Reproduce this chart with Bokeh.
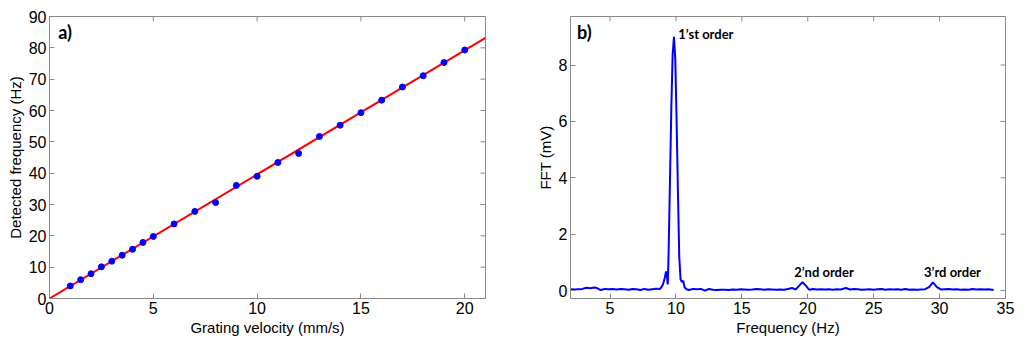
import math
from bokeh.plotting import figure
from bokeh.layouts import row
from bokeh.models import FixedTicker, Label, Range1d
from bokeh.embed import file_html
from bokeh.resources import INLINE

# ---- panel a) data ----
velocity = [1, 1.5, 2, 2.5, 3, 3.5, 4, 4.5, 5, 6, 7, 8, 9, 10, 11, 12, 13, 14, 15, 16, 17, 18, 19, 20]
detected = [4.0, 6.0, 7.9, 10.1, 11.9, 13.8, 15.7, 17.9, 19.8, 23.8, 27.8, 30.6, 36.1, 39.0,
            43.4, 46.3, 51.7, 55.3, 59.3, 63.3, 67.5, 71.1, 75.3, 79.3]
fit_slope = 3.96
fit_x = [0, 21]

# ---- panel b) data ----
freq = [2.0, 2.3, 2.6, 2.9, 3.2, 3.5, 3.8, 4.0, 4.3, 4.6, 4.9, 5.2, 5.5, 5.8, 6.1, 6.4, 6.7, 7.0,
        7.3, 7.6, 7.9, 8.2, 8.5, 8.8, 9.0, 9.15, 9.25, 9.32, 9.38, 9.45, 9.55, 9.65, 9.75, 9.85,
        9.95, 10.05, 10.15, 10.25, 10.35, 10.45, 10.55, 10.65, 10.8, 11.0, 11.3, 11.6, 11.9, 12.2,
        12.5, 12.8, 13.1, 13.4, 13.7, 14.0, 14.3, 14.6, 14.9, 15.2, 15.5, 15.8, 16.1, 16.4, 16.7,
        17.0, 17.3, 17.6, 17.9, 18.2, 18.5, 18.8, 19.1, 19.3, 19.6, 19.9, 20.1, 20.4, 20.7, 21.0,
        21.3, 21.6, 21.9, 22.2, 22.5, 22.9, 23.2, 23.5, 23.8, 24.1, 24.4, 24.7, 25.0, 25.3, 25.6,
        25.9, 26.2, 26.5, 26.8, 27.1, 27.4, 27.7, 28.0, 28.3, 28.6, 28.9, 29.2, 29.5, 29.8, 30.1,
        30.4, 30.7, 31.0, 31.3, 31.6, 31.9, 32.2, 32.5, 32.8, 33.1, 33.4, 33.7, 34.1]
fft = [0.05, 0.04, 0.05, 0.06, 0.10, 0.08, 0.11, 0.09, 0.02, 0.06, 0.05, 0.06, 0.04, 0.06, 0.05,
       0.03, 0.06, 0.05, 0.02, 0.06, 0.03, 0.05, 0.07, 0.06, 0.20, 0.45, 0.68, 0.50, 0.22, 1.5,
       4.0, 6.5, 8.4, 9.0, 8.2, 6.0, 3.5, 1.2, 0.40, 0.30, 0.35, 0.12, 0.05, 0.02, 0.06, 0.05,
       0.06, 0.00, 0.06, 0.03, 0.02, 0.03, 0.03, 0.02, 0.04, 0.03, 0.05, 0.04, 0.03, 0.04, 0.06,
       0.05, 0.03, 0.05, 0.04, 0.03, 0.04, 0.03, 0.06, 0.09, 0.04, 0.15, 0.30, 0.15, 0.03, 0.06,
       0.04, 0.05, 0.04, 0.05, 0.03, 0.05, 0.04, 0.09, 0.04, 0.06, 0.05, 0.03, 0.04, 0.05, 0.03,
       0.05, 0.06, 0.03, 0.05, 0.04, 0.05, 0.03, 0.06, 0.03, 0.04, 0.03, 0.04, 0.05, 0.12, 0.29,
       0.12, 0.04, 0.05, 0.06, 0.04, 0.05, 0.03, 0.04, 0.03, 0.06, 0.04, 0.05, 0.04, 0.05, 0.02]

a_xticks = [0, 5, 10, 15, 20]
a_yticks = [0, 10, 20, 30, 40, 50, 60, 70, 80, 90]
b_xticks = [5, 10, 15, 20, 25, 30, 35]
b_yticks = [0, 2, 4, 6, 8]

AX = "#8a8a8a"
TICK_FONT = "Liberation Sans"


def style_axis(ax):
    ax.axis_line_color = AX
    ax.major_tick_line_color = AX
    ax.major_tick_in = 5
    ax.major_tick_out = 0
    ax.minor_tick_line_color = None
    ax.major_label_text_font = TICK_FONT
    ax.major_label_text_color = "black"
    ax.major_label_text_font_size = "16px"
    ax.major_label_standoff = 3
    ax.axis_label_text_font = TICK_FONT
    ax.axis_label_text_font_style = "normal"
    ax.axis_label_text_font_size = "15px"
    ax.axis_label_text_color = "black"
    ax.axis_label_standoff = 2


def make_fig(xr, yr, xt, yt, fw, fh, bl, br, xlabel, ylabel):
    p = figure(frame_width=fw, frame_height=fh, x_range=Range1d(*xr), y_range=Range1d(*yr),
               output_backend="svg", toolbar_location=None,
               min_border_left=bl, min_border_right=br, min_border_top=16, min_border_bottom=38)
    p.grid.visible = False
    p.outline_line_color = AX
    p.xaxis.ticker = FixedTicker(ticks=xt)
    p.yaxis.ticker = FixedTicker(ticks=yt)
    p.xaxis.axis_label = xlabel
    p.yaxis.axis_label = ylabel
    style_axis(p.xaxis[0])
    style_axis(p.yaxis[0])
    # inward ticks on the top and right frame edges (box style); half of each dash is clipped
    top_t = [t for t in xt if xr[0] < t < xr[1]]
    p.scatter(top_t, [yr[1]] * len(top_t), marker="dash", size=10, angle=math.pi / 2,
              line_color=AX, line_width=1)
    right_t = [t for t in yt if yr[0] < t < yr[1]]
    p.scatter([xr[1]] * len(right_t), right_t, marker="dash", size=10,
              line_color=AX, line_width=1)
    return p


# ---- panel a ----
pa = make_fig((0, 21), (0, 90), a_xticks, a_yticks, 436, 282, 49, 35,
              "Grating velocity (mm/s)", "Detected frequency (Hz)")
pa.line(fit_x, [fit_slope * v for v in fit_x], line_color="#ff0000", line_width=2)
pa.scatter(velocity, detected, size=6, fill_color="#0000ff", line_color="#0000ff")
pa.add_layout(Label(x=0.42, y=85.0, text="a)", text_font="Lato", text_font_style="bold",
                    text_font_size="18px", text_baseline="middle", text_color="black"))

# ---- panel b ----
pb = make_fig((2, 35), (-0.28, 9.72), b_xticks, b_yticks, 435, 282, 50, 11,
              "Frequency (Hz)", "FFT (mV)")
pb.line(freq, fft, line_color="#0000ff", line_width=2)
pb.add_layout(Label(x=2.5, y=9.16, text="b)", text_font="Lato", text_font_style="bold",
                    text_font_size="18px", text_baseline="middle", text_color="black"))
for tx, ty, tt in [(10.18, 9.1, "1’st order"), (18.97, 0.65, "2’nd order"), (28.82, 0.65, "3’rd order")]:
    pb.add_layout(Label(x=tx, y=ty, text=tt, text_font="Lato", text_font_style="bold",
                        text_font_size="13px", text_baseline="middle", text_color="black"))

layout = row(pa, pb)
open("out.html", "w").write(file_html(layout, INLINE))
